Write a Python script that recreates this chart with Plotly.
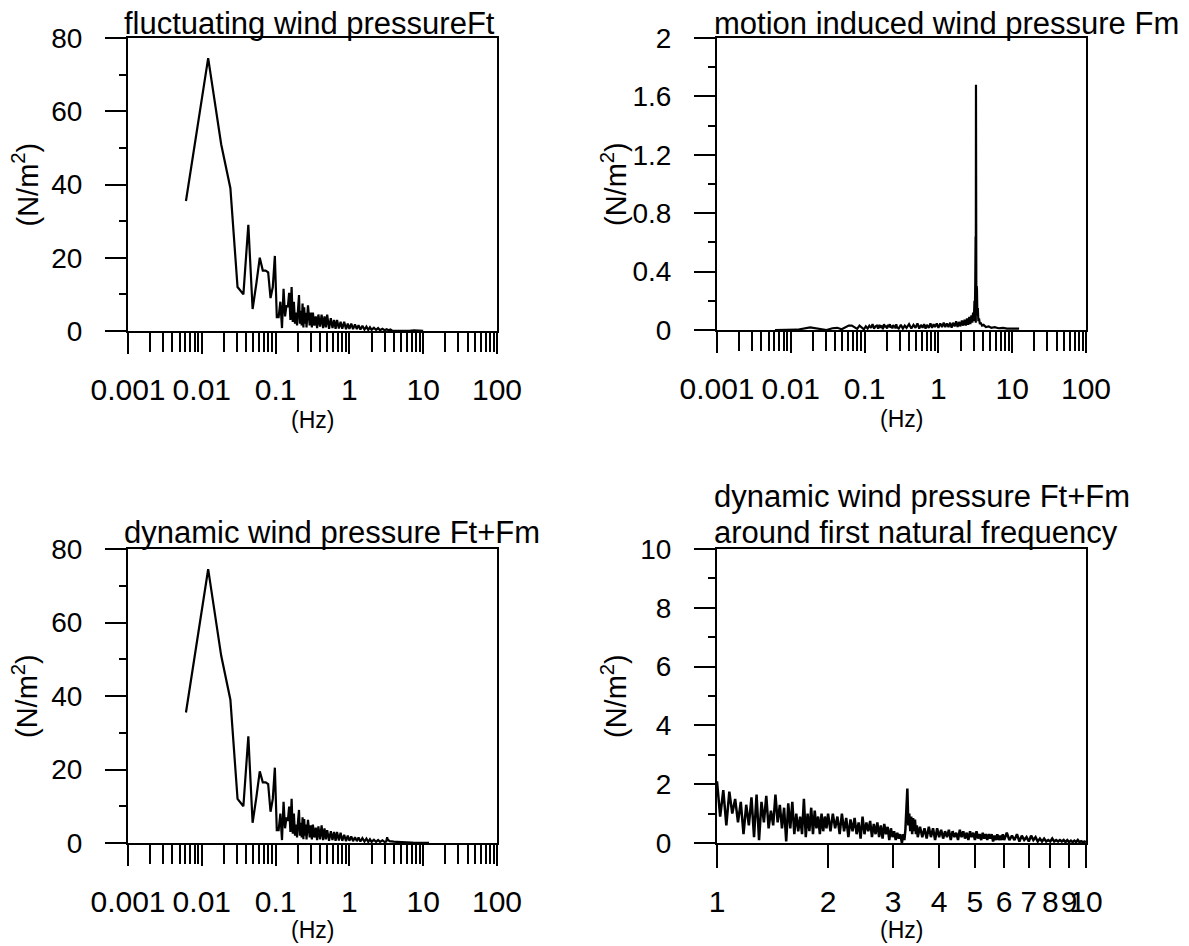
import plotly.graph_objects as go

W, H = 1189, 946
FONT = "Liberation Sans, Arial, sans-serif"

# ---------------------------------------------------------------------------
# Spectra (amplitude in N/m^2 against frequency in Hz)
# ---------------------------------------------------------------------------

# first FFT bins (bin width about 0.0061 Hz)
low_freq = [
    0.0061, 0.0122, 0.0183, 0.0244, 0.0305, 0.0366, 0.0427, 0.0488, 0.0549, 0.0610,
    0.0671, 0.0732, 0.0793, 0.0854, 0.0916, 0.0977, 0.1038, 0.1099, 0.1160, 0.1221,
    0.1282, 0.1343, 0.1404, 0.1465, 0.1526, 0.1587, 0.1648, 0.1709, 0.1770, 0.1831,
    0.1892, 0.1953, 0.2014, 0.2075, 0.2136, 0.2197, 0.2258, 0.2319, 0.2380, 0.2441,
    0.2502, 0.2563, 0.2625, 0.2686, 0.2747,
]

# fluctuating wind pressure Ft
ft_low = [
    35.5, 74.5, 51, 39, 12, 10, 29, 6, 13, 20,
    16.5, 16.5, 16, 9, 12, 20.5, 3.8, 3.8, 8, 0.8,
    11.5, 4, 7, 6.5, 10.4, 3, 12, 2.5, 8, 2,
    5, 1.5, 6, 9.8, 2, 5.5, 1.5, 7.5, 1, 6.5,
    2, 5, 1, 4, 7,
]
ft_hi_freq = [
    0.29, 0.30, 0.31, 0.32, 0.335, 0.35, 0.365, 0.38, 0.40, 0.42,
    0.44, 0.46, 0.48, 0.50, 0.53, 0.56, 0.59, 0.62, 0.65, 0.68,
    0.72, 0.76, 0.80, 0.85, 0.90, 0.95, 1.00, 1.06, 1.12, 1.19,
    1.26, 1.33, 1.41, 1.50, 1.60, 1.70, 1.80, 1.90, 2.00, 2.15,
    2.30, 2.45, 2.60, 2.80, 3.00, 3.20, 3.40, 3.60, 3.80, 4.50,
    5.50, 6.50, 7.50, 8.50, 9.50, 10.0,
]
ft_hi = [
    1.5, 5, 1.0, 5, 1.5, 4, 0.8, 4.5, 1.2, 4.5,
    0.8, 4, 1.0, 4.5, 0.6, 3.5, 0.8, 3, 0.6, 3,
    0.7, 2.5, 0.6, 2.5, 0.5, 2, 0.6, 2, 0.5, 1.8,
    0.5, 1.6, 0.4, 1.4, 0.4, 1.2, 0.3, 1.0, 0.3, 0.9,
    0.3, 0.8, 0.2, 0.6, 0.2, 0.5, 0.2, 0.4, 0.1, 0.05,
    0.05, 0.05, 0.2, 0.1, 0.2, 0.05,
]

# motion induced wind pressure Fm
fm_low = [
    0.0, 0.002, 0.018, 0.006, 0.0, 0.012, 0.015, 0.005, 0.02, 0.03,
    0.03, 0.02, 0.008, 0.03, 0.02, 0.005, 0.025, 0.01, 0.03, 0.015,
    0.04, 0.01, 0.025, 0.03, 0.01, 0.035, 0.015, 0.03, 0.005, 0.04,
    0.02, 0.03, 0.01, 0.035, 0.02, 0.04, 0.015, 0.03, 0.01, 0.035,
    0.02, 0.03, 0.01, 0.04, 0.02,
]
fm_hi_freq = [
    0.29, 0.31, 0.33, 0.35, 0.37, 0.40, 0.43, 0.46, 0.49, 0.52,
    0.55, 0.58, 0.61, 0.64, 0.67, 0.70, 0.74, 0.78, 0.82, 0.86,
    0.90, 0.95, 1.00, 1.06, 1.12, 1.18, 1.24, 1.30, 1.37, 1.44,
    1.51, 1.58, 1.66, 1.74, 1.82, 1.90, 1.99, 2.08, 2.17, 2.26,
    2.35, 2.44, 2.53, 2.62, 2.71, 2.80, 2.88, 2.95, 3.02, 3.08,
    3.12, 3.16, 3.19, 3.21, 3.23, 3.25, 3.27, 3.30, 3.33, 3.37,
    3.42, 3.48, 3.55, 3.65, 3.75, 3.90, 4.10, 4.40, 4.80, 5.20,
    5.80, 6.50, 7.50, 8.50, 10.0, 12.4,
]
fm_hi = [
    0.01, 0.035, 0.01, 0.03, 0.015, 0.04, 0.01, 0.035, 0.015, 0.045,
    0.01, 0.035, 0.015, 0.04, 0.01, 0.035, 0.015, 0.045, 0.015, 0.04,
    0.02, 0.045, 0.015, 0.045, 0.02, 0.05, 0.02, 0.045, 0.02, 0.05,
    0.015, 0.05, 0.025, 0.06, 0.02, 0.055, 0.025, 0.065, 0.03, 0.07,
    0.03, 0.08, 0.035, 0.09, 0.04, 0.1, 0.05, 0.12, 0.06, 0.2,
    0.1, 0.35, 0.64, 0.05, 1.68, 0.35, 0.1, 0.3, 0.28, 0.12,
    0.15, 0.06, 0.08, 0.04, 0.05, 0.03, 0.035, 0.02, 0.025, 0.015,
    0.02, 0.012, 0.015, 0.01, 0.012, 0.01,
]

# dynamic wind pressure Ft+Fm
dyn_low = [
    35.5, 74.5, 51, 39, 12, 10, 29, 5.5, 12.5, 19.5,
    16.5, 16.5, 16, 8.5, 12, 20.5, 3.5, 3.5, 8, 0.8,
    11.2, 4, 7, 6, 9.9, 3, 12, 2.5, 8, 2,
    5, 1.5, 6, 9, 2, 5.5, 1.5, 7, 1, 6.5,
    2, 5, 1, 4, 6.3,
]
dyn_hi_freq = [
    0.29, 0.30, 0.31, 0.32, 0.335, 0.35, 0.365, 0.38, 0.40, 0.42,
    0.44, 0.46, 0.48, 0.50, 0.53, 0.56, 0.59, 0.62, 0.65, 0.68,
    0.72, 0.76, 0.80, 0.85, 0.90, 0.95, 1.00, 1.06, 1.12, 1.19,
    1.26, 1.33, 1.41, 1.50, 1.60, 1.70, 1.80, 1.90, 2.00, 2.15,
    2.30, 2.45, 2.60, 2.80, 3.00, 3.15, 3.25, 3.30, 3.35, 3.50,
    3.70, 4.00, 4.40, 4.80, 5.30, 5.80, 6.40, 7.00, 7.50, 8.50,
    10.0, 12.0,
]
dyn_hi = [
    1.5, 4.8, 1.0, 5, 1.5, 4.2, 0.8, 4.5, 1.0, 4.8,
    0.8, 4, 1.0, 3.5, 0.6, 3.2, 0.8, 3, 0.6, 3,
    0.7, 2.8, 0.6, 2.2, 0.5, 2, 0.6, 1.8, 0.5, 1.6,
    0.5, 1.5, 0.4, 1.3, 0.4, 1.2, 0.3, 1.0, 0.3, 0.9,
    0.3, 0.8, 0.3, 0.7, 0.3, 0.4, 1.6, 0.6, 0.9, 0.5,
    0.4, 0.35, 0.3, 0.3, 0.25, 0.2, 0.2, 0.1, 0.02, 0.02,
    0.01, 0.01,
]

# Ft+Fm zoomed on 1-10 Hz (around the first natural frequency, ~3.3 Hz)
band_freq = [
    1.00, 1.02, 1.04, 1.06, 1.08, 1.10, 1.12, 1.14, 1.16, 1.18,
    1.20, 1.22, 1.24, 1.26, 1.28, 1.30, 1.32, 1.34, 1.36, 1.38,
    1.40, 1.42, 1.44, 1.46, 1.48, 1.50, 1.52, 1.54, 1.56, 1.58,
    1.60, 1.62, 1.64, 1.66, 1.68, 1.70, 1.72, 1.74, 1.76, 1.78,
    1.80, 1.82, 1.84, 1.86, 1.88, 1.90, 1.92, 1.94, 1.96, 1.98,
    2.00,
    2.03, 2.06, 2.09, 2.12, 2.15, 2.18, 2.21, 2.24, 2.27, 2.30,
    2.33, 2.36, 2.39, 2.42, 2.45, 2.48, 2.51, 2.54, 2.57, 2.60,
    2.63, 2.66, 2.69, 2.72, 2.75, 2.78, 2.81, 2.84, 2.87, 2.90,
    2.93, 2.96, 2.99, 3.02, 3.05, 3.08, 3.11, 3.14, 3.17, 3.20,
    3.22, 3.24, 3.26, 3.28, 3.30, 3.32, 3.34, 3.36, 3.38, 3.40,
    3.42, 3.44, 3.46, 3.48, 3.50,
    3.55, 3.60, 3.65, 3.70, 3.75, 3.80, 3.85, 3.90, 3.95, 4.00,
    4.05, 4.10, 4.15, 4.20, 4.25, 4.30, 4.35, 4.40, 4.45, 4.50,
    4.55, 4.60, 4.65, 4.70, 4.75, 4.80, 4.85, 4.90, 4.95, 5.00,
    5.05, 5.10, 5.15, 5.20, 5.25, 5.30, 5.35, 5.40, 5.45, 5.50,
    5.55, 5.60, 5.65, 5.70, 5.75, 5.80, 5.85, 5.90, 5.95, 6.00,
    6.1, 6.2, 6.3, 6.4, 6.5, 6.6, 6.7, 6.8, 6.9, 7.0,
    7.1, 7.2, 7.3, 7.4, 7.5, 7.6, 7.7, 7.8, 7.9, 8.0,
    8.1, 8.2, 8.3, 8.4, 8.5, 8.6, 8.7, 8.8, 8.9, 9.0,
    9.1, 9.2, 9.3, 9.4, 9.5, 9.6, 9.7, 9.8, 9.9, 10.0,
]
band_vals = [
    2.1, 0.9, 1.8, 0.6, 1.75, 1.0, 1.5, 0.7, 1.4, 0.3,
    1.3, 0.6, 1.55, 0.2, 1.65, 0.1, 1.4, 0.7, 1.6, 0.5,
    1.1, 0.6, 1.65, 0.7, 1.3, 0.5, 1.2, 0.05, 1.35, 0.5,
    1.4, 0.3, 1.0, 0.4, 0.9, 0.3, 1.5, 0.2, 1.0, 0.4,
    1.2, 0.3, 1.1, 0.5, 0.9, 0.3, 1.0, 0.4, 0.9, 0.5,
    1.0,
    0.4, 1.0, 0.5, 0.9, 0.3, 1.0, 0.4, 0.85, 0.2, 0.8,
    0.4, 0.85, 0.3, 0.7, 0.15, 0.9, 0.3, 0.7, 0.4, 0.75,
    0.2, 0.65, 0.3, 0.7, 0.2, 0.6, 0.15, 0.65, 0.3, 0.55,
    0.1, 0.5, 0.2, 0.4, 0.1, 0.35, 0.15, 0.3, 0.0, 0.3,
    0.1, 0.45, 1.4, 1.85, 0.6, 1.0, 0.4, 0.9, 0.3, 0.85,
    0.4, 0.8, 0.3, 0.6, 0.2,
    0.55, 0.2, 0.5, 0.15, 0.55, 0.2, 0.5, 0.1, 0.5, 0.2,
    0.45, 0.15, 0.4, 0.2, 0.45, 0.1, 0.4, 0.2, 0.35, 0.1,
    0.45, 0.2, 0.4, 0.15, 0.35, 0.1, 0.4, 0.2, 0.35, 0.1,
    0.4, 0.15, 0.3, 0.1, 0.35, 0.15, 0.3, 0.1, 0.3, 0.15,
    0.3, 0.05, 0.25, 0.1, 0.3, 0.1, 0.25, 0.1, 0.3, 0.1,
    0.35, 0.1, 0.25, 0.1, 0.3, 0.05, 0.25, 0.1, 0.2, 0.05,
    0.25, 0.1, 0.2, 0.05, 0.15, 0.05, 0.15, 0.05, 0.1, 0.05,
    0.15, 0.05, 0.1, 0.05, 0.1, 0.05, 0.1, 0.03, 0.1, 0.03,
    0.08, 0.03, 0.08, 0.03, 0.1, 0.03, 0.06, 0.03, 0.05, 0.03,
]

ft_freq, ft_vals = low_freq + ft_hi_freq, ft_low + ft_hi
fm_freq, fm_vals = low_freq + fm_hi_freq, fm_low + fm_hi
dyn_freq, dyn_vals = low_freq + dyn_hi_freq, dyn_low + dyn_hi
for fx, fy in [(ft_freq, ft_vals), (fm_freq, fm_vals), (dyn_freq, dyn_vals), (band_freq, band_vals)]:
    assert len(fx) == len(fy), (len(fx), len(fy))

# axis tick definitions
decade_ticks = [0.001, 0.01, 0.1, 1, 10, 100]
decade_text = ["0.001", "0.01", "0.1", "1", "10", "100"]
decade_minor = [m * d for d in [0.001, 0.01, 0.1, 1, 10] for m in range(2, 10)]
band_ticks = [1, 2, 3, 4, 5, 6, 7, 8, 9, 10]
band_text = [str(v) for v in band_ticks]

# ---------------------------------------------------------------------------
# Layout helpers (pixel boxes of the four panels)
# ---------------------------------------------------------------------------
panels = {
    "1": (128, 497, 38, 331),
    "2": (717, 1086, 38, 330),
    "3": (128, 497, 549, 843),
    "4": (717, 1086, 549, 843),
}


def xdom(p):
    l, r, t, b = panels[p]
    return [l / W, r / W]


def ydom(p):
    l, r, t, b = panels[p]
    return [1 - b / H, 1 - t / H]


def base_axis():
    return dict(
        showline=True, linecolor="black", linewidth=2, mirror=True,
        ticks="outside", tickcolor="black", tickwidth=1.6,
        showgrid=False, zeroline=False, tickangle=0,
        automargin=False, fixedrange=True,
    )


def log_xaxis(p):
    ax = base_axis()
    ax.update(
        type="log", range=[-3, 2], domain=xdom(p), anchor="y" + ("" if p == "1" else p),
        tickmode="array", tickvals=decade_ticks, ticktext=decade_text,
        ticklen=21, tickfont=dict(size=30, family=FONT, color="black"),
        ticklabelstandoff=10,
        minor=dict(tickmode="array", tickvals=decade_minor, ticks="outside",
                   ticklen=19, tickwidth=1.6, tickcolor="black", showgrid=False),
    )
    return ax


def yaxis(p, top, major, minor):
    ax = base_axis()
    ax.update(
        range=[0, top], domain=ydom(p), anchor="x" + ("" if p == "1" else p),
        tickmode="linear", tick0=0, dtick=major, ticklen=21,
        tickfont=dict(size=28, family=FONT, color="black"),
        ticklabelstandoff=17,
        minor=dict(tickmode="linear", tick0=0, dtick=minor, ticks="outside",
                   ticklen=7, tickwidth=1.6, tickcolor="black", showgrid=False),
    )
    return ax


line = dict(color="black", width=2.2)
fig = go.Figure()
fig.add_trace(go.Scatter(x=ft_freq, y=ft_vals, mode="lines", line=line, xaxis="x", yaxis="y"))
fig.add_trace(go.Scatter(x=fm_freq, y=fm_vals, mode="lines", line=line, xaxis="x2", yaxis="y2"))
fig.add_trace(go.Scatter(x=dyn_freq, y=dyn_vals, mode="lines", line=line, xaxis="x3", yaxis="y3"))
fig.add_trace(go.Scatter(x=band_freq, y=band_vals, mode="lines",
                         line=dict(color="black", width=2.5), xaxis="x4", yaxis="y4"))

band_x = base_axis()
band_x.update(
    type="log", range=[0, 1], domain=xdom("4"), anchor="y4",
    tickmode="array", tickvals=band_ticks, ticktext=band_text,
    ticklen=23, tickfont=dict(size=30, family=FONT, color="black"),
    ticklabelstandoff=8,
)

fig.update_layout(
    width=W, height=H,
    margin=dict(l=0, r=0, t=0, b=0, autoexpand=False),
    paper_bgcolor="white", plot_bgcolor="white",
    showlegend=False,
    font=dict(family=FONT, color="black"),
    xaxis=log_xaxis("1"), yaxis=yaxis("1", 80, 20, 10),
    xaxis2=log_xaxis("2"), yaxis2=yaxis("2", 2, 0.4, 0.2),
    xaxis3=log_xaxis("3"), yaxis3=yaxis("3", 80, 20, 10),
    xaxis4=band_x, yaxis4=yaxis("4", 10, 2, 1),
)


def text_at(x, y, s, size, anchor="left", angle=0):
    fig.add_annotation(
        x=x / W, y=1 - y / H, xref="paper", yref="paper", text=s,
        showarrow=False, xanchor=anchor, yanchor="middle", textangle=angle,
        font=dict(size=size, family=FONT, color="black"),
    )


# panel titles
text_at(122, 23, "fluctuating wind pressureFt", 31)
text_at(712, 23, "motion induced wind pressure Fm", 31)
text_at(122, 532, "dynamic wind pressure Ft+Fm", 31)
text_at(712, 496, "dynamic wind pressure Ft+Fm", 31)
text_at(712, 532, "around first natural frequency", 31)

# axis titles
for p, (l, r, t, b) in panels.items():
    text_at((l + r) / 2, min(b + 89, 930), "(Hz)", 23, anchor="center")
    ylab_x = 25 if p in "13" else 614
    text_at(ylab_x, (t + b) / 2, "(N/m<sup>2</sup>)", 29, anchor="center", angle=-90)

fig.write_html("out.html")
